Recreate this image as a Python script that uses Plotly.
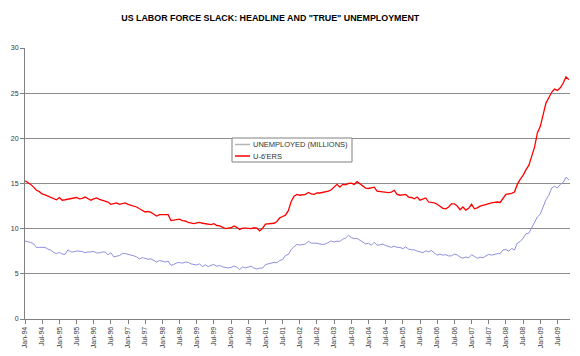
import plotly.graph_objects as go

# Monthly observations, Jan-1994 .. Nov-2009 (millions of persons)
unemployed = [
    8.63, 8.58, 8.47, 8.33, 7.92, 7.93, 7.95, 7.93, 7.73, 7.63, 7.38, 7.23,   # 1994
    7.38, 7.19, 7.15, 7.65, 7.43, 7.43, 7.53, 7.48, 7.48, 7.33, 7.43, 7.42,   # 1995
    7.49, 7.31, 7.32, 7.42, 7.42, 7.10, 7.34, 6.88, 6.98, 7.03, 7.24, 7.25,   # 1996
    7.16, 7.10, 7.00, 6.87, 6.66, 6.80, 6.66, 6.61, 6.66, 6.45, 6.31, 6.48,   # 1997
    6.37, 6.31, 6.42, 5.94, 6.05, 6.21, 6.26, 6.18, 6.30, 6.28, 6.10, 6.03,   # 1998
    5.98, 6.11, 5.78, 6.00, 5.80, 5.95, 6.03, 5.84, 5.92, 5.78, 5.72, 5.65,   # 1999
    5.71, 5.86, 5.73, 5.48, 5.76, 5.65, 5.75, 5.85, 5.63, 5.53, 5.64, 5.63,   # 2000
    6.02, 6.09, 6.14, 6.27, 6.23, 6.48, 6.58, 7.04, 7.14, 7.69, 8.00, 8.26,   # 2001
    8.18, 8.22, 8.30, 8.60, 8.40, 8.39, 8.39, 8.30, 8.25, 8.31, 8.52, 8.64,   # 2002
    8.52, 8.62, 8.59, 8.84, 8.96, 9.27, 9.01, 8.90, 8.92, 8.73, 8.58, 8.32,   # 2003
    8.37, 8.17, 8.49, 8.17, 8.21, 8.29, 8.14, 7.99, 7.93, 8.06, 7.93, 7.93,   # 2004
    7.78, 7.98, 7.74, 7.67, 7.65, 7.52, 7.41, 7.35, 7.55, 7.45, 7.57, 7.28,   # 2005
    7.06, 7.18, 7.07, 7.12, 6.98, 7.00, 7.18, 7.09, 6.85, 6.73, 6.87, 6.76,   # 2006
    7.12, 6.93, 6.73, 6.85, 6.77, 6.98, 7.15, 7.07, 7.17, 7.24, 7.24, 7.65,   # 2007
    7.69, 7.50, 7.82, 7.64, 8.40, 8.58, 8.94, 9.44, 9.49, 10.07, 10.54, 11.29,  # 2008
    11.6, 12.5, 13.2, 13.7, 14.5, 14.7, 14.5, 14.9, 15.1, 15.7, 15.4,          # 2009
]

u6ers = [
    15.3, 15.1, 14.9, 14.6, 14.25, 14.1, 13.85, 13.75, 13.6, 13.5, 13.35, 13.2,   # 1994
    13.45, 13.15, 13.2, 13.25, 13.3, 13.35, 13.45, 13.3, 13.35, 13.5, 13.3, 13.15,  # 1995
    13.3, 13.4, 13.25, 13.15, 13.0, 12.95, 12.7, 12.8, 12.85, 12.7, 12.75, 12.85,  # 1996
    12.7, 12.6, 12.5, 12.4, 12.2, 12.0, 11.85, 11.9, 11.8, 11.6, 11.4, 11.55,     # 1997
    11.55, 11.5, 11.55, 10.9, 10.95, 11.0, 11.05, 10.9, 10.85, 10.7, 10.6, 10.55,  # 1998
    10.65, 10.7, 10.6, 10.55, 10.5, 10.45, 10.55, 10.35, 10.3, 10.1, 10.0, 10.05,  # 1999
    10.1, 10.3, 10.15, 9.9, 10.05, 10.05, 10.0, 10.0, 10.1, 10.05, 9.75, 10.05,    # 2000
    10.5, 10.55, 10.55, 10.6, 10.8, 11.2, 11.35, 11.5, 12.0, 13.0, 13.6, 13.8,     # 2001
    13.7, 13.75, 13.8, 14.0, 13.85, 13.8, 13.95, 13.95, 14.0, 14.05, 14.15, 14.3,  # 2002
    14.6, 14.9, 14.6, 14.9, 14.85, 15.0, 15.05, 14.9, 15.2, 14.95, 14.7, 14.5,     # 2003
    14.45, 14.5, 14.6, 14.15, 14.1, 14.05, 14.0, 14.0, 14.05, 14.25, 13.8, 13.7,   # 2004
    13.75, 13.8, 13.5, 13.45, 13.3, 13.5, 13.15, 13.3, 13.4, 12.95, 12.9, 12.85,   # 2005
    12.7, 12.45, 12.25, 12.2, 12.4, 12.75, 12.75, 12.5, 12.1, 12.4, 12.05, 12.25,  # 2006
    12.7, 12.2, 12.3, 12.5, 12.6, 12.7, 12.75, 12.85, 12.9, 12.95, 12.9, 13.3,     # 2007
    13.8, 13.85, 13.9, 14.05, 14.9, 15.45, 15.9, 16.5, 17.0, 18.0, 19.0, 20.6,     # 2008
    21.3, 22.6, 23.9, 24.5, 25.1, 25.45, 25.3, 25.6, 26.1, 26.8, 26.5,             # 2009
]

tick_labels = [
    "Jan-94", "Jul-94", "Jan-95", "Jul-95", "Jan-96", "Jul-96", "Jan-97", "Jul-97",
    "Jan-98", "Jul-98", "Jan-99", "Jul-99", "Jan-00", "Jul-00", "Jan-01", "Jul-01",
    "Jan-02", "Jul-02", "Jan-03", "Jul-03", "Jan-04", "Jul-04", "Jan-05", "Jul-05",
    "Jan-06", "Jul-06", "Jan-07", "Jul-07", "Jan-08", "Jul-08", "Jan-09", "Jul-09",
]

series_names = ["UNEMPLOYED (MILLIONS)", "U-6'ERS"]
legend_swatch_colors = ["#B4B4B4", "#FF0000"]

month_idx = list(range(len(u6ers)))          # category positions (one per month)
tick_pos = [6 * i for i in range(len(tick_labels))]

FONT = "Liberation Sans, Arial, sans-serif"
W, H = 580, 356
L, R, T, B = 25, 10, 48, 37
PW, PH = W - L - R, H - T - B


def px(x):  # pixel -> paper x
    return (x - L) / PW


def py(y):  # pixel -> paper y
    return (H - B - y) / PH


fig = go.Figure()
fig.add_trace(go.Scatter(x=month_idx, y=unemployed, mode="lines", showlegend=False,
                         name=series_names[0], line=dict(color="#8F8FE0", width=1)))
fig.add_trace(go.Scatter(x=month_idx, y=u6ers, mode="lines", showlegend=False,
                         name=series_names[1], line=dict(color="#FF0000", width=1.3)))

# Legend box drawn as a compact Excel-style legend
shapes = [dict(type="rect", xref="paper", yref="paper", x0=px(232), x1=px(352),
               y0=py(162), y1=py(138), line=dict(color="#808080", width=1),
               fillcolor="white", layer="above")]
annotations = []
for i, (nm, col) in enumerate(zip(series_names, legend_swatch_colors)):
    yy = 144.5 + i * 11.5
    shapes.append(dict(type="line", xref="paper", yref="paper", x0=px(235), x1=px(250),
                       y0=py(yy), y1=py(yy), line=dict(color=col, width=1.5), layer="above"))
    annotations.append(dict(text=nm, xref="paper", yref="paper", x=px(251), y=py(yy),
                            xanchor="left", yanchor="middle", showarrow=False,
                            font=dict(family=FONT, size=7.5, color="#333333")))

fig.update_layout(
    width=W, height=H,
    margin=dict(l=L, r=R, t=T, b=B, autoexpand=False),
    paper_bgcolor="white", plot_bgcolor="white",
    title=dict(text="<b>US LABOR FORCE SLACK: HEADLINE AND \"TRUE\" UNEMPLOYMENT</b>",
               x=261 / W, xanchor="center", xref="paper", y=1 - 18 / H, yanchor="middle",
               font=dict(family=FONT, size=8.9, color="#000000")),
    font=dict(family=FONT, size=7, color="#333333"),
    showlegend=False,
    shapes=shapes,
    annotations=annotations,
    xaxis=dict(range=[0, 190.4], tickmode="array", tickvals=tick_pos, ticktext=tick_labels,
               tickangle=-90, ticks="outside", ticklen=4, tickcolor="#808080",
               showline=True, linecolor="#808080", linewidth=1, showgrid=False,
               zeroline=False, automargin=False, tickfont=dict(size=7, color="#333333")),
    yaxis=dict(range=[0, 30], tickvals=[0, 5, 10, 15, 20, 25, 30],
               ticks="outside", ticklen=4, tickcolor="#808080",
               showline=True, linecolor="#808080", linewidth=1, automargin=False,
               showgrid=True, gridcolor="#8C8C8C", gridwidth=1, zeroline=False,
               tickfont=dict(size=7, color="#333333")),
)

fig.write_html("out.html", config={"displayModeBar": False},
               post_script="document.body.style.margin='0';")
